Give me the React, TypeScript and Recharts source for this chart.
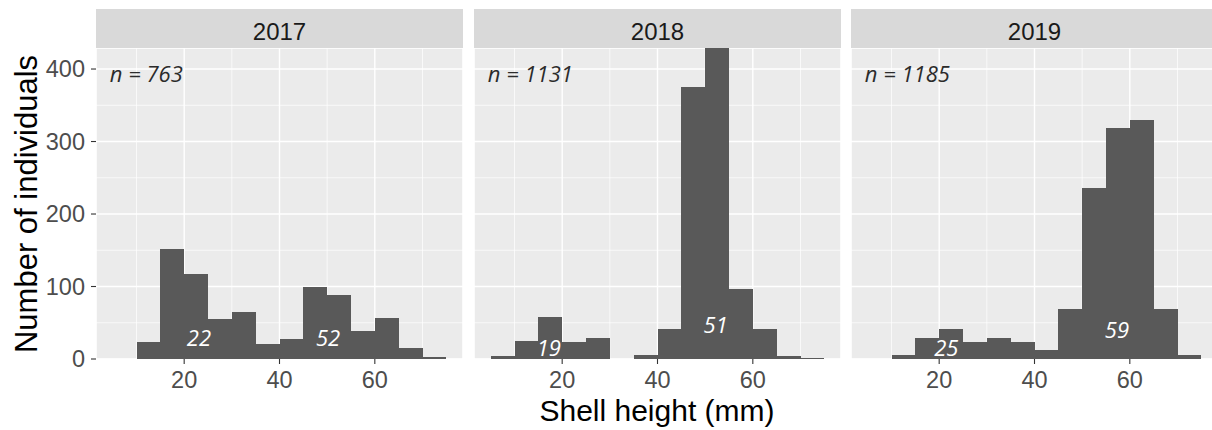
import React from "react";
import {
  ComposedChart,
  Bar,
  Scatter,
  XAxis,
  YAxis,
  CartesianGrid,
} from "recharts";

// Histogram bins (centre of each 5 mm bin, 5–75 mm)
const binCenters = [7.5, 12.5, 17.5, 22.5, 27.5, 32.5, 37.5, 42.5, 47.5, 52.5, 57.5, 62.5, 67.5, 72.5];

const counts2017 = [0, 23, 152, 117, 55, 65, 21, 28, 99, 88, 38, 57, 15, 3];
const counts2018 = [4, 25, 58, 23, 29, 0, 6, 42, 375, 429, 96, 42, 4, 2];
const counts2019 = [0, 6, 29, 42, 23, 29, 23, 12, 69, 236, 318, 330, 69, 5];

const years = ["2017", "2018", "2019"];
const nLabels = ["n = 763", "n = 1131", "n = 1185"];

// cohort labels (text, x, y) per year
const cohort2017 = [
  { x: 23.1, y: 30, text: "22" },
  { x: 50.2, y: 31, text: "52" },
];
const cohort2018 = [
  { x: 17.2, y: 16, text: "19" },
  { x: 52.2, y: 48, text: "51" },
];
const cohort2019 = [
  { x: 21.5, y: 16, text: "25" },
  { x: 57.3, y: 41, text: "59" },
];

const xMajorTicks = [20, 40, 60];
const xMinorTicks = [10, 30, 50, 70];
const yMajorTicks = [0, 100, 200, 300, 400];
const yMinorTicks = [50, 150, 250, 350];
const xDomain = [1.5, 78.5];
const yDomain = [0, 429];
const nPos = { x: 4.4, y: 395 };

const PANEL_W = 367;
const PLOT_H = 311;
const PANEL_TOP = 48;
const STRIP_TOP = 9;
const panelLefts = [96, 474, 851];
const Y_AXIS_W = 96;

const AXIS_FONT = "'Liberation Sans', Arial, sans-serif";
const NOTE_FONT = "'Open Sans', 'DejaVu Sans', sans-serif";

const buildData = (counts: number[]) =>
  binCenters.map((x, i) => ({ x, count: counts[i] }));

const CohortText = (props: any) => {
  const { cx, cy, payload } = props;
  if (cx == null || cy == null) return null;
  return (
    <text
      x={cx}
      y={cy}
      textAnchor="middle"
      dominantBaseline="central"
      fill="#ffffff"
      fontStyle="italic"
      fontFamily={NOTE_FONT}
      fontSize={22}
    >
      {payload.text}
    </text>
  );
};

const NText = (props: any) => {
  const { cx, cy, payload } = props;
  if (cx == null || cy == null) return null;
  return (
    <text
      x={cx}
      y={cy}
      textAnchor="start"
      dominantBaseline="central"
      fill="#2b2b2b"
      fontStyle="italic"
      fontFamily={NOTE_FONT}
      fontSize={22}
    >
      {payload.text}
    </text>
  );
};

function Facet({
  counts,
  cohort,
  nText,
  left,
  showY,
}: {
  counts: number[];
  cohort: { x: number; y: number; text: string }[];
  nText: string;
  left: number;
  showY: boolean;
}) {
  const yw = showY ? Y_AXIS_W : 0;
  const nData = [{ x: nPos.x, y: nPos.y, text: nText }];
  return (
    <div style={{ position: "absolute", left: left - yw, top: PANEL_TOP }}>
      <ComposedChart
        width={yw + PANEL_W}
        height={PLOT_H + 60}
        data={buildData(counts)}
        margin={{ top: 0, right: 0, bottom: 0, left: 0 }}
        barCategoryGap={0}
        barGap={0}
      >
        <XAxis
          xAxisId="main"
          dataKey="x"
          type="number"
          domain={xDomain}
          allowDataOverflow
          ticks={xMajorTicks}
          height={60}
          axisLine={false}
          tickSize={5}
          tickMargin={7}
          tickLine={{ stroke: "#333333", strokeWidth: 1.1 }}
          tick={{ fill: "#4D4D4D", fontSize: 23.5, fontFamily: AXIS_FONT }}
        />
        <XAxis
          xAxisId="minor"
          dataKey="x"
          type="number"
          domain={xDomain}
          allowDataOverflow
          ticks={xMinorTicks}
          hide
        />
        <YAxis
          yAxisId="main"
          type="number"
          domain={yDomain}
          allowDataOverflow
          ticks={yMajorTicks}
          width={yw}
          hide={!showY}
          axisLine={false}
          tickSize={5}
          tickMargin={6}
          tickLine={{ stroke: "#333333", strokeWidth: 1.1 }}
          tick={{ fill: "#4D4D4D", fontSize: 23.5, fontFamily: AXIS_FONT }}
        />
        <YAxis
          yAxisId="minor"
          type="number"
          domain={yDomain}
          allowDataOverflow
          ticks={yMinorTicks}
          hide
        />
        <CartesianGrid
          xAxisId="minor"
          yAxisId="minor"
          stroke="#ffffff"
          strokeWidth={0.7}
          fill="#EBEBEB"
          fillOpacity={1}
        />
        <CartesianGrid
          xAxisId="main"
          yAxisId="main"
          stroke="#ffffff"
          strokeWidth={1.4}
        />
        <Bar
          xAxisId="main"
          yAxisId="main"
          dataKey="count"
          fill="#595959"
          shapeRendering="crispEdges"
          isAnimationActive={false}
        />
        <Scatter
          xAxisId="minor"
          yAxisId="minor"
          data={cohort}
          dataKey="y"
          shape={CohortText}
          isAnimationActive={false}
        />
        <Scatter
          xAxisId="minor"
          yAxisId="minor"
          data={nData}
          dataKey="y"
          shape={NText}
          isAnimationActive={false}
        />
      </ComposedChart>
    </div>
  );
}

export default function App() {
  const allCounts = [counts2017, counts2018, counts2019];
  const allCohorts = [cohort2017, cohort2018, cohort2019];
  return (
    <div
      style={{
        position: "absolute",
        left: 0,
        top: 0,
        width: 1212,
        height: 430,
        overflow: "hidden",
        background: "#ffffff",
      }}
    >
      <svg
        width={1212}
        height={430}
        style={{ position: "absolute", left: 0, top: 0 }}
      >
        {years.map((y, i) => (
          <g key={y}>
            <rect
              x={panelLefts[i]}
              y={STRIP_TOP}
              width={PANEL_W}
              height={PANEL_TOP - STRIP_TOP}
              fill="#D9D9D9"
            />
            <text
              x={panelLefts[i] + PANEL_W / 2}
              y={40}
              textAnchor="middle"
              fill="#1A1A1A"
              fontFamily={AXIS_FONT}
              fontSize={24}
            >
              {y}
            </text>
          </g>
        ))}
        <text
          x={657}
          y={421}
          textAnchor="middle"
          fill="#000000"
          fontFamily={AXIS_FONT}
          fontSize={30}
        >
          Shell height (mm)
        </text>
        <text
          x={37}
          y={204}
          transform="rotate(-90 37 204)"
          textAnchor="middle"
          fill="#000000"
          fontFamily={AXIS_FONT}
          fontSize={31}
        >
          Number of individuals
        </text>
      </svg>
      {years.map((y, i) => (
        <Facet
          key={y}
          counts={allCounts[i]}
          cohort={allCohorts[i]}
          nText={nLabels[i]}
          left={panelLefts[i]}
          showY={i === 0}
        />
      ))}
    </div>
  );
}
